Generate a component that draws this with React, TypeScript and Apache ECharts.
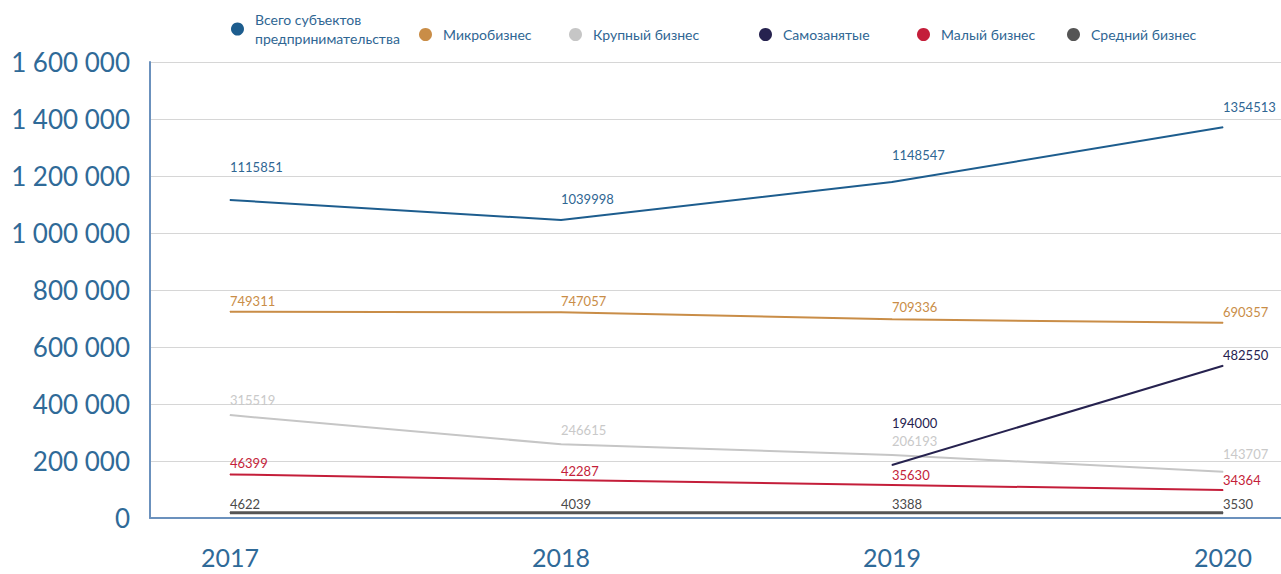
import React, { useEffect, useRef } from "react";
import * as echarts from "echarts";

const years = ["2017", "2018", "2019", "2020"];

const seriesNames = [
  "Всего субъектов предпринимательства",
  "Микробизнес",
  "Крупный бизнес",
  "Самозанятые",
  "Малый бизнес",
  "Средний бизнес",
];

// line positions as drawn
const totalValues = [1115800, 1045600, 1179000, 1371000];
const microValues = [723900, 722000, 697000, 685000];
const largeValues = [361000, 258600, 221000, 162000];
const selfEmployedValues = [null, null, 186000, 534000];
const smallValues = [153000, 133000, 116000, 98000];
const mediumValues = [18600, 18200, 18000, 18000];

// printed labels
const totalLabels = ["1115851", "1039998", "1148547", "1354513"];
const microLabels = ["749311", "747057", "709336", "690357"];
const largeLabels = ["315519", "246615", "206193", "143707"];
const selfEmployedLabels = ["", "", "194000", "482550"];
const smallLabels = ["46399", "42287", "35630", "34364"];
const mediumLabels = ["4622", "4039", "3388", "3530"];

const yTicks = [0, 200000, 400000, 600000, 800000, 1000000, 1200000, 1400000, 1600000];

const FONT = "Lato, 'Open Sans', sans-serif";
const AXIS_BLUE = "#2f6a98";

function fmt(v: number) {
  return String(v).replace(/\B(?=(\d{3})+(?!\d))/g, " ");
}

export default function App() {
  const ref = useRef<HTMLDivElement>(null);
  useEffect(() => {
    if (!ref.current) return;
    const chart = echarts.init(ref.current, undefined, { renderer: "svg" });

    const lineColors = ["#1d5d8e", "#c98d47", "#c6c6c6", "#26224f", "#c41e3a", "#555555"];
    const labelColors = ["#2f6693", "#c98d47", "#c9c9c9", "#26224f", "#c41e3a", "#4a4a4a"];
    const widths = [2, 2, 2, 2, 2, 3];
    const lifts = [
      [26, 14, 20, 13],
      [4, 4, 5, 4],
      [8, 7, 7, 11],
      [0, 0, 35, 4],
      [4, 2, 3, 3],
      [2, 2, 2, 2],
    ];
    const values = [totalValues, microValues, largeValues, selfEmployedValues, smallValues, mediumValues];
    const labels = [totalLabels, microLabels, largeLabels, selfEmployedLabels, smallLabels, mediumLabels];

    const series: any[] = values.map((vals, si) => ({
      name: seriesNames[si],
      type: "line",
      xAxisIndex: 1,
      yAxisIndex: 1,
      symbol: "circle",
      symbolSize: 1,
      showSymbol: true,
      smooth: false,
      lineStyle: { color: lineColors[si], width: widths[si] },
      itemStyle: { color: lineColors[si] },
      label: {
        show: true,
        position: "top",
        align: "left",
        color: labelColors[si],
        fontFamily: FONT,
        fontSize: 13,
      },
      data: vals.map((v, i) => ({
        value: v,
        label: {
          show: v !== null,
          position: "top",
          align: "left",
          distance: lifts[si][i],
          formatter: () => labels[si][i],
          color: labelColors[si],
          fontFamily: FONT,
          fontSize: 13,
        },
      })),
    }));
    series.push({ type: "line", xAxisIndex: 0, yAxisIndex: 0, data: [], silent: true });

    const legendLefts = [226, 414, 564, 754, 912, 1062];
    const legends = seriesNames.map((n, i) => ({
      data: [n],
      left: legendLefts[i],
      top: i === 0 ? 5 : 20,
      icon: "circle",
      itemWidth: 13,
      itemHeight: 13,
      selectedMode: false,
      formatter: (name: string) =>
        name === seriesNames[0] ? "Всего субъектов\nпредпринимательства" : name,
      textStyle: {
        color: "#2f6693",
        fontFamily: FONT,
        fontSize: 14,
        lineHeight: 19,
        padding: [0, 0, 0, 6],
      },
    }));

    chart.setOption({
      animation: false,
      backgroundColor: "#ffffff",
      legend: legends,
      grid: [
        { left: 150, right: 0, top: 62, bottom: 56 },
        { left: 230, right: 58, top: 62, bottom: 56 },
      ],
      xAxis: [
        {
          type: "value",
          gridIndex: 0,
          min: 0,
          max: 1,
          axisLine: { show: true, lineStyle: { color: "#6b91bd", width: 2 } },
          axisTick: { show: false },
          axisLabel: { show: false },
          splitLine: { show: false },
        },
        {
          type: "category",
          gridIndex: 1,
          data: years,
          boundaryGap: false,
          axisLine: { show: false },
          axisTick: { show: false },
          axisLabel: {
            color: AXIS_BLUE,
            fontFamily: FONT,
            fontSize: 25,
            margin: 26,
          },
          splitLine: { show: false },
        },
      ],
      yAxis: [
        {
          type: "value",
          gridIndex: 0,
          min: 0,
          max: yTicks[yTicks.length - 1],
          interval: yTicks[1] - yTicks[0],
          axisLine: { show: true, lineStyle: { color: "#6b91bd", width: 2 } },
          axisTick: { show: false },
          axisLabel: {
            color: AXIS_BLUE,
            fontFamily: FONT,
            fontSize: 26,
            margin: 20,
            formatter: (v: number) => fmt(v),
          },
          splitLine: { show: true, lineStyle: { color: "#d6d6d6", width: 1 } },
        },
        {
          type: "value",
          gridIndex: 1,
          min: 0,
          max: yTicks[yTicks.length - 1],
          show: false,
          splitLine: { show: false },
        },
      ],
      series,
    });

    return () => chart.dispose();
  }, []);

  return (
    <div
      ref={ref}
      style={{ position: "fixed", left: 0, top: 0, width: 1281, height: 574 }}
    />
  );
}
